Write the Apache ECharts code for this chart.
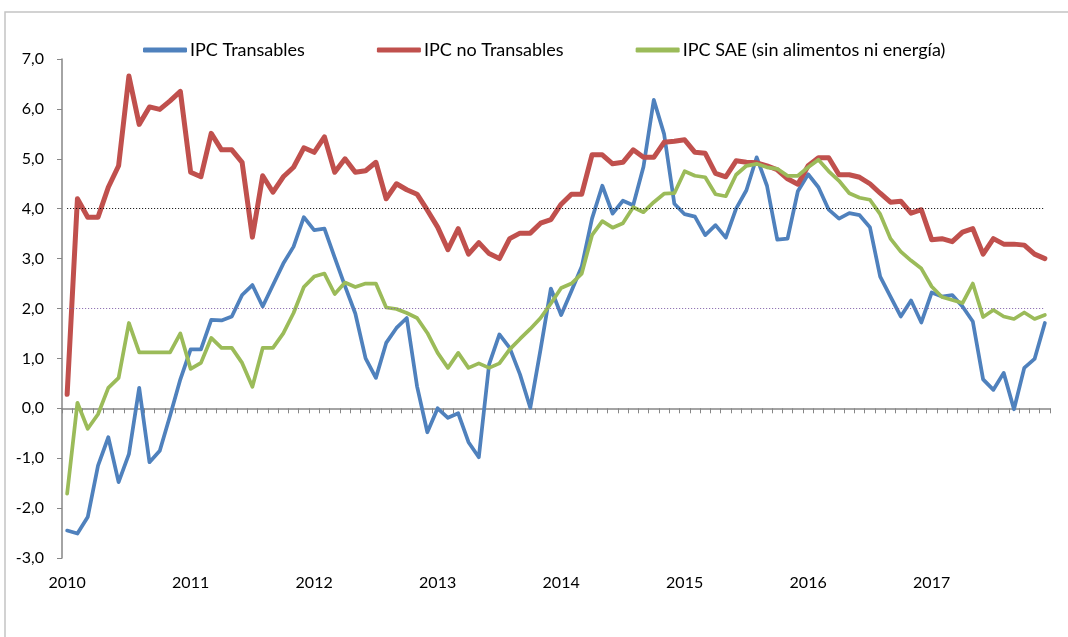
<!DOCTYPE html>
<html>
<head>
<meta charset="utf-8">
<script src="https://cdn.jsdelivr.net/npm/echarts@6/dist/echarts.min.js"></script>
<style>
  html, body { margin: 0; padding: 0; background: #fff; }
  #chart { width: 1068px; height: 637px; }
</style>
</head>
<body>
<div id="chart"></div>
<script>
// monthly, Jan 2010 - Dec 2017
const years = ["2010", "2011", "2012", "2013", "2014", "2015", "2016", "2017"];
const months = ["01", "02", "03", "04", "05", "06", "07", "08", "09", "10", "11", "12"];

const transables = [
  -2.45, -2.51, -2.18, -1.15, -0.58, -1.48, -0.92, 0.41, -1.08, -0.85, -0.15, 0.58,
  1.18, 1.18, 1.77, 1.76, 1.84, 2.27, 2.47, 2.04, 2.47, 2.9, 3.24, 3.83,
  3.57, 3.6, 3.02, 2.45, 1.9, 1.0, 0.61, 1.31, 1.61, 1.81, 0.44, -0.48,
  0.0, -0.19, -0.1, -0.68, -0.98, 0.88, 1.48, 1.21, 0.68, 0.01, 1.18, 2.4,
  1.87, 2.35, 2.84, 3.8, 4.46, 3.9, 4.16, 4.07, 4.84, 6.18, 5.5, 4.1,
  3.89, 3.84, 3.47, 3.67, 3.42, 4.0, 4.37, 5.03, 4.46, 3.38, 3.4, 4.35,
  4.69, 4.43, 3.98, 3.8, 3.91, 3.87, 3.63, 2.64, 2.24, 1.84, 2.16, 1.72,
  2.32, 2.24, 2.27, 2.04, 1.74, 0.58, 0.37, 0.71, -0.02, 0.81, 0.99, 1.71
];

const noTransables = [
  0.28, 4.2, 3.83, 3.83, 4.43, 4.86, 6.66, 5.69, 6.04, 5.99, 6.16, 6.35,
  4.73, 4.64, 5.51, 5.18, 5.18, 4.93, 3.43, 4.66, 4.33, 4.64, 4.83, 5.22,
  5.13, 5.44, 4.73, 5.0, 4.73, 4.76, 4.93, 4.2, 4.5, 4.38, 4.29, 3.97,
  3.63, 3.18, 3.6, 3.09, 3.32, 3.1, 3.0, 3.4, 3.51, 3.51, 3.71, 3.78,
  4.09, 4.29, 4.29, 5.08, 5.08, 4.9, 4.93, 5.18, 5.03, 5.03, 5.33, 5.35,
  5.38, 5.13, 5.11, 4.71, 4.64, 4.96, 4.93, 4.92, 4.86, 4.78, 4.6, 4.49,
  4.86, 5.02, 5.02, 4.68, 4.68, 4.63, 4.5, 4.31, 4.13, 4.15, 3.91, 3.98,
  3.38, 3.4, 3.34, 3.53, 3.6, 3.09, 3.4, 3.29, 3.29, 3.27, 3.09, 3.0
];

const sae = [
  -1.71, 0.11, -0.41, -0.12, 0.41, 0.61, 1.71, 1.12, 1.12, 1.12, 1.12, 1.5,
  0.79, 0.91, 1.41, 1.21, 1.21, 0.91, 0.43, 1.21, 1.21, 1.5, 1.91, 2.43,
  2.64, 2.7, 2.29, 2.52, 2.43, 2.5, 2.5, 2.02, 1.99, 1.91, 1.81, 1.51,
  1.11, 0.81, 1.11, 0.81, 0.9, 0.81, 0.9, 1.18, 1.39, 1.59, 1.81, 2.1,
  2.41, 2.5, 2.7, 3.47, 3.75, 3.62, 3.71, 4.03, 3.93, 4.13, 4.3, 4.31,
  4.75, 4.66, 4.63, 4.29, 4.25, 4.68, 4.86, 4.9, 4.83, 4.8, 4.66, 4.66,
  4.83, 4.98, 4.75, 4.56, 4.31, 4.22, 4.18, 3.89, 3.4, 3.14, 2.96, 2.8,
  2.44, 2.23, 2.17, 2.11, 2.5, 1.83, 1.97, 1.84, 1.79, 1.92, 1.79, 1.87
];

const refLines = [4, 2];

const categories = [];
years.forEach((y) => months.forEach((m) => categories.push(y + "-" + m)));

const font = "Lato, 'Open Sans', sans-serif";
const first = categories[0];
const last = categories[categories.length - 1];

const chart = echarts.init(document.getElementById("chart"));

const option = {
  backgroundColor: "#fff",
  animation: false,
  graphic: [{
    type: "rect",
    shape: { x: 5, y: 12, width: 1200, height: 700 },
    style: { fill: "none", stroke: "#c4c4c4", lineWidth: 1.5 },
    silent: true
  }],
  legend: {
    top: 36,
    left: 138,
    itemGap: 72,
    itemWidth: 44,
    itemHeight: 5,
    icon: "roundRect",
    textStyle: { fontFamily: font, fontSize: 18, color: "#000", padding: [0, 0, 0, -2] },
    data: ["IPC Transables", "IPC no Transables", "IPC SAE (sin alimentos ni energía)"]
  },
  grid: { left: 62, right: 18, top: 59, bottom: 79 },
  xAxis: [
    {
      type: "category",
      data: categories,
      boundaryGap: true,
      axisLine: { onZero: true, lineStyle: { color: "#868686", width: 1.5 } },
      axisTick: { show: true, interval: 0, length: 5, lineStyle: { color: "#868686", width: 1 } },
      axisLabel: { show: false },
      splitLine: { show: false }
    },
    {
      type: "category",
      data: categories,
      position: "bottom",
      boundaryGap: true,
      axisLine: { show: false, onZero: false },
      axisTick: { show: false },
      axisLabel: {
        interval: (i) => i % 12 === 0,
        formatter: (v) => v.slice(0, 4),
        margin: 17,
        fontFamily: font,
        fontSize: 16,
        color: "#000"
      },
      splitLine: { show: false }
    }
  ],
  yAxis: {
    type: "value",
    min: -3,
    max: 7,
    interval: 1,
    axisLine: { show: true, lineStyle: { color: "#868686", width: 1.5 } },
    axisTick: { show: true, length: 5, lineStyle: { color: "#868686" } },
    axisLabel: {
      formatter: (v) => v.toFixed(1).replace(".", ","),
      margin: 18,
      fontFamily: font,
      fontSize: 16,
      color: "#000"
    },
    splitLine: { show: false }
  },
  series: [
    {
      name: "IPC Transables",
      type: "line",
      data: transables,
      showSymbol: false,
      color: "#4F81BD",
      lineStyle: { width: 3.75, cap: "round", join: "round" },
      markLine: {
        silent: true,
        symbol: "none",
        label: { show: false },
        data: [
          [{ coord: [first, refLines[0]], lineStyle: { color: "#000", width: 1, type: [1, 2] } },
           { coord: [last, refLines[0]] }],
          [{ coord: [first, refLines[1]], lineStyle: { color: "#7f5fa8", width: 1, type: [1, 2] } },
           { coord: [last, refLines[1]] }]
        ]
      }
    },
    {
      name: "IPC no Transables",
      type: "line",
      data: noTransables,
      showSymbol: false,
      color: "#C0504D",
      lineStyle: { width: 5, cap: "round", join: "round" }
    },
    {
      name: "IPC SAE (sin alimentos ni energía)",
      type: "line",
      data: sae,
      showSymbol: false,
      color: "#9BBB59",
      lineStyle: { width: 3.75, cap: "round", join: "round" }
    }
  ]
};

chart.setOption(option);
</script>
</body>
</html>
